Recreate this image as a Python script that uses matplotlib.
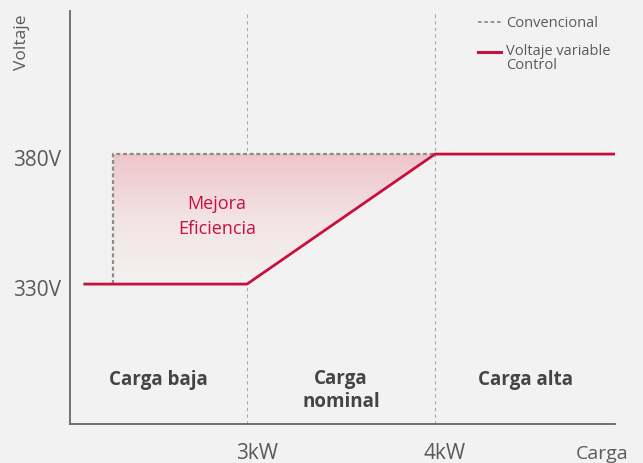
import numpy as np
import matplotlib.pyplot as plt
import matplotlib.transforms as mtransforms
from matplotlib.patches import Polygon
from matplotlib.colors import LinearSegmentedColormap

plt.rcParams['font.family'] = ['Open Sans', 'DejaVu Sans']

# data
conv_x = [2.29, 2.29, 4.0]
conv_y = [330, 380, 380]
ctrl_x = [2.13, 3.0, 4.0, 4.96]
ctrl_y = [330, 330, 380, 380]
kw_ticks = [3, 4]
kw_labels = ["3kW", "4kW"]
v_ticks = [330, 380]
v_labels = ["330V", "380V"]
zones = ["Carga baja", "Carga\nnominal", "Carga alta"]
zone_x = [2.53, 3.5, 4.48]
zone_y = [293.5, 289.5, 293.5]

red = '#c8103e'
grey_txt = '#5a5a5a'
bg = '#f2f2f2'

fig = plt.figure(figsize=(6.43, 4.64), dpi=100, facecolor=bg)
ax = fig.add_axes([0.1089, 0.0841, 0.8476, 0.8899])
ax.set_facecolor(bg)
ax.set_xlim(2.059, 4.957)
ax.set_ylim(276.2, 435)

# gradient fill between dashed box and red line
poly = Polygon([(2.29, 330), (2.29, 380), (4.0, 380), (3.0, 330)], closed=True,
               facecolor='none', edgecolor='none')
ax.add_patch(poly)
cmap = LinearSegmentedColormap.from_list('pk', ['#f4f2f0', '#f2e3e4', '#eec5c9'])
grad = np.linspace(0, 1, 256).reshape(-1, 1)
im = ax.imshow(grad, cmap=cmap, aspect='auto', origin='lower',
               extent=[2.29, 4.0, 330, 380], zorder=1)
im.set_clip_path(poly)

# vertical guides
for k in kw_ticks:
    ax.axvline(k, color='#aaaaaa', lw=0.8, ls=(0, (3, 3)), zorder=0)

ax.plot(conv_x, conv_y, color='#8c8c8c', lw=1.6, ls=(0, (1.8, 1.2)), zorder=2)
ax.plot(ctrl_x, ctrl_y, color=red, lw=2, zorder=3, solid_capstyle='butt')

ax.text(2.84, 356.5, "Mejora\nEficiencia", color=red, fontsize=13,
        ha='center', va='center', linespacing=1.5)

for zx, zy, zl in zip(zone_x, zone_y, zones):
    ax.text(zx, zy, zl, ha='center', va='center',
            fontsize=13.5, fontweight='bold', color='#444444', linespacing=1.2)

ax.set_xticks(kw_ticks)
ax.set_xticklabels(kw_labels)
ax.set_yticks(v_ticks)
ax.set_yticklabels(v_labels)
ax.tick_params(length=0, labelsize=15, colors=grey_txt)
ax.tick_params(axis='x', pad=13)
ax.tick_params(axis='y', pad=6.5)
xshift = mtransforms.ScaledTranslation(10 / 100, 0, fig.dpi_scale_trans)
for lab in ax.get_xticklabels():
    lab.set_transform(lab.get_transform() + xshift)
yshift = mtransforms.ScaledTranslation(0, -3 / 100, fig.dpi_scale_trans)
for lab in ax.get_yticklabels():
    lab.set_transform(lab.get_transform() + yshift)
for s in ['top', 'right']:
    ax.spines[s].set_visible(False)
for s in ['left', 'bottom']:
    ax.spines[s].set_color('#666666')
    ax.spines[s].set_linewidth(1.3)

fig.text(602 / 643, 1 - 454 / 464, "Carga", ha='center', va='center', fontsize=14, color=grey_txt)
fig.text(22 / 643, 1 - 42 / 464, "Voltaje", ha='center', va='center', rotation=90,
         fontsize=12.5, color=grey_txt)

# legend
ax.plot([0.749, 0.791], [0.973, 0.973], transform=ax.transAxes, color='#8c8c8c',
        lw=1.3, ls=(0, (2, 1.5)), clip_on=False)
ax.text(0.80, 0.973, "Convencional", transform=ax.transAxes, fontsize=10.5,
        color=grey_txt, va='center')
ax.plot([0.749, 0.791], [0.90, 0.90], transform=ax.transAxes, color=red,
        lw=2.2, clip_on=False)
ax.text(0.80, 0.922, "Voltaje variable\nControl", transform=ax.transAxes, fontsize=10.5,
        color=grey_txt, va='top', linespacing=0.85)

fig.savefig('out.png', dpi=100, facecolor=bg)
